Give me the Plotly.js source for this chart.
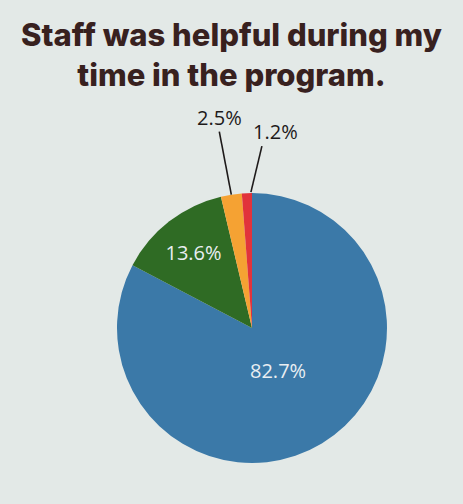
<!DOCTYPE html>
<html>
<head>
<meta charset="utf-8">
<script src="https://cdn.plot.ly/plotly-3.0.1.min.js"></script>
<style>html,body{margin:0;padding:0;background:#ffffff;}#chart{width:463px;height:504px;}</style>
</head>
<body>
<div id="chart"></div>
<script>
const categories = ['Strongly agree', 'Agree', 'Disagree', 'Strongly disagree'];
const values = [82.7, 13.6, 2.5, 1.2];
const colors = ['#3b79a8', '#2f6b24', '#f5a233', '#e1333b'];
const insideShown = [false, true, false, false];

const W = 463, H = 504;
const CX = 252, CY = 328, R = 135;
const dom = {
  x: [(CX - R) / W, (CX + R) / W],
  y: [(H - CY - R) / H, (H - CY + R) / H]
};

const pctText = values.map(v => v.toFixed(1) + '%');
const total = values.reduce((a, b) => a + b, 0);

// mid angle of each slice (clockwise from 12 o'clock)
let cum = 0;
const mids = values.map(v => { const m = (cum + v / 2) / total * 2 * Math.PI; cum += v; return m; });
function polarPaper(i, frac) {
  const px = CX + frac * R * Math.sin(mids[i]);
  const py = CY - frac * R * Math.cos(mids[i]);
  return { x: px / W, y: (H - py) / H };
}

// leader-line offsets (pixels) for the outside labels
const outside = [
  { i: 2, lx0: 0, ly0: 0, lx1: -12, ly1: 63, tx: -12, ty: 77 },
  { i: 3, lx0: 4, ly0: 1, lx1: 15, ly1: 47, tx: 29, ty: 62 }
];

const labelFont = 'Open Sans, sans-serif';
const shapes = [];
const annotations = [];
outside.forEach(o => {
  const e = polarPaper(o.i, 1);
  shapes.push({
    type: 'line', xref: 'paper', yref: 'paper',
    xsizemode: 'pixel', ysizemode: 'pixel',
    xanchor: e.x, yanchor: e.y,
    x0: o.lx0, y0: o.ly0, x1: o.lx1, y1: o.ly1,
    line: { color: '#1e1a1a', width: 1.6 }
  });
  annotations.push({
    xref: 'paper', yref: 'paper', x: e.x, y: e.y,
    xanchor: 'center', yanchor: 'middle',
    xshift: o.tx, yshift: o.ty, showarrow: false,
    text: pctText[o.i],
    font: { family: labelFont, size: 20, color: '#1e1a1a' }
  });
});
// big slice label placed along its mid angle
const big = polarPaper(0, 0.37);
annotations.push({
  xref: 'paper', yref: 'paper', x: big.x, y: big.y, showarrow: false,
  xanchor: 'center', yanchor: 'middle',
  text: pctText[0],
  font: { family: labelFont, size: 20, color: '#e9eef2' }
});

const trace = {
  type: 'pie',
  labels: categories,
  values: values,
  sort: false,
  direction: 'clockwise',
  rotation: 0,
  marker: { colors: colors, line: { width: 0 } },
  text: pctText.map((t, i) => insideShown[i] ? t : ''),
  textinfo: 'text',
  textposition: 'inside',
  insidetextorientation: 'horizontal',
  insidetextfont: { family: labelFont, size: 20, color: '#e9eef2' },
  hoverinfo: 'label+percent',
  domain: dom,
  showlegend: false
};

const layout = {
  width: W, height: H,
  margin: { l: 0, r: 0, t: 0, b: 0 },
  paper_bgcolor: '#e3e9e7',
  plot_bgcolor: '#e3e9e7',
  showlegend: false,
  title: {
    text: 'Staff was helpful during my<br>time in the program.',
    x: 0.5, xanchor: 'center',
    y: 1 - 46 / 504, yanchor: 'middle',
    font: { family: 'Inter, Lato, sans-serif', size: 31, color: '#38211f', weight: 800 }
  },
  shapes: shapes,
  annotations: annotations
};

Plotly.newPlot('chart', [trace], layout, { displayModeBar: false, staticPlot: true });
</script>
</body>
</html>
